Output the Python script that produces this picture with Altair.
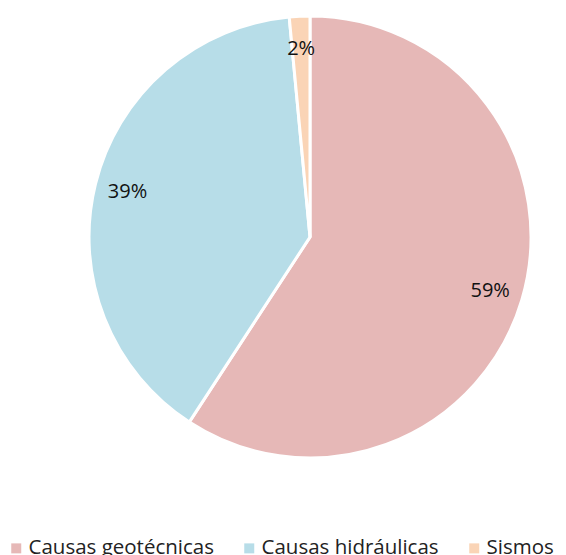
import altair as alt
import pandas as pd

categories = ["Causas geotécnicas", "Causas hidráulicas", "Sismos"]
values = [59.2, 39.3, 1.5]
labels = ["59%", "39%", "2%"]
colors = ["#E6B8B7", "#B7DDE8", "#FAD4B6"]

df = pd.DataFrame({"cat": categories, "val": values, "lab": labels, "ord": [0, 1, 2]})

CX, CY = 302, 229

base = alt.Chart(df).encode(
    theta=alt.Theta("val:Q", stack=True),
    order=alt.Order("ord:Q"),
)

pie = base.mark_arc(stroke="white", strokeWidth=3, outerRadius=221).encode(
    x=alt.value(CX), y=alt.value(CY),
    color=alt.Color(
        "cat:N",
        scale=alt.Scale(domain=categories, range=colors),
        sort=categories,
        legend=alt.Legend(
            title=None, orient="none", direction="horizontal",
            legendX=-2, legendY=530,
            symbolType="square", symbolSize=100, symbolStrokeWidth=0,
            labelFont="Open Sans", labelFontSize=20.5, labelColor="#222222",
            columnPadding=25, labelLimit=300, symbolOffset=0, labelOffset=2,
        ),
    ),
)

text = base.mark_text(radius=188, font="Open Sans", fontSize=20, color="#111111").encode(
    x=alt.value(CX), y=alt.value(CY),
    text="lab:N",
)

chart = (pie + text).properties(
    width=550, height=547, padding=0,
    autosize=alt.AutoSizeParams(type="none"),
).configure_view(stroke=None)

chart.save("out.html", embed_options={"renderer": "svg", "actions": False})
